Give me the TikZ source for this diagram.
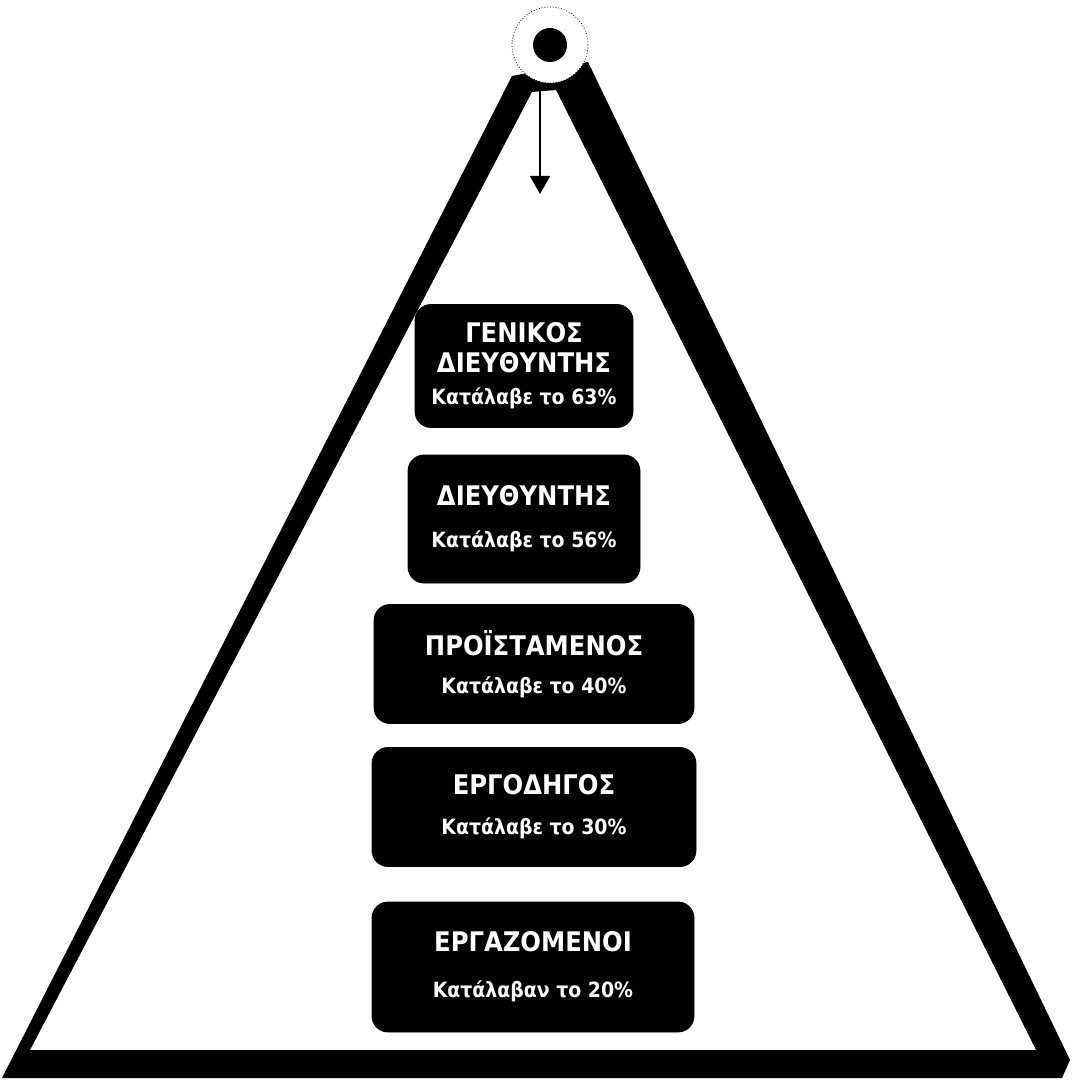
\documentclass[tikz,border=0pt]{standalone}
\usepackage{fontspec}
\setmainfont{DejaVu Sans Condensed}
\usetikzlibrary{arrows.meta}
\newcommand{\sharefont}{\fontsize{10.5}{12}\selectfont}
\tikzset{
    rank/.style={draw=black, fill=black, rectangle, rounded corners=8pt, align=center, text=white, font=\bfseries\fontsize{13.5}{15}\selectfont},
    arrow/.style={-{Triangle[length=9pt, width=10pt]}, line width=1pt}
}
\begin{document}
\begin{tikzpicture}[x=0.5pt, y=-0.5pt]
\useasboundingbox (0,0) rectangle (1071,1080);
% frame of the pyramid
\fill[black, even odd rule] (2,1078) -- (512,76) -- (588,62) -- (1070,1060) -- (1062,1078) -- cycle
    (30,1050) -- (532,92) -- (556,90) -- (1036,1050) -- cycle;
% top ring
\node[circle, fill=white, draw=black, densely dotted, thin, minimum size=38pt, inner sep=0pt] (top) at (550,45) {};
\fill[black] (top) circle (8.5pt);
\coordinate (tip) at (540,194);
\draw[arrow] (top.south -| tip) -- (tip);
% ranks
\node[rank, minimum width=109pt, minimum height=61.5pt] (gm) at (524,366) {ΓΕΝΙΚΟΣ\\ΔΙΕΥΘΥΝΤΗΣ\\[1pt]{\sharefont Κατάλαβε το 63\%}};
\node[rank, minimum width=116pt, minimum height=64pt] (dir) at (524,519) {ΔΙΕΥΘΥΝΤΗΣ\\[6pt]{\sharefont Κατάλαβε το 56\%}};
\node[rank, minimum width=160pt, minimum height=59.5pt] (head) at (534,664) {ΠΡΟΪΣΤΑΜΕΝΟΣ\\[4pt]{\sharefont Κατάλαβε το 40\%}};
\node[rank, minimum width=162pt, minimum height=59.5pt] (fore) at (534,807) {ΕΡΓΟΔΗΓΟΣ\\[5pt]{\sharefont Κατάλαβε το 30\%}};
\node[rank, minimum width=161pt, minimum height=65pt] (staff) at (533,967) {ΕΡΓΑΖΟΜΕΝΟΙ\\[8pt]{\sharefont Κατάλαβαν το 20\%}};
\end{tikzpicture}
\end{document}
